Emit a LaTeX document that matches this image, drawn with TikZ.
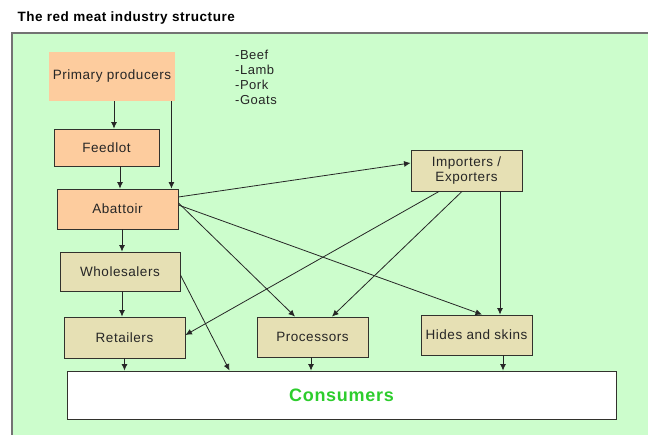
\documentclass[tikz,border=0pt]{standalone}
\usepackage{fontspec}
\setmainfont{Liberation Sans}[LetterSpace=4]
\usetikzlibrary{arrows.meta}
\definecolor{panelgreen}{RGB}{204,253,204}
\definecolor{peach}{RGB}{253,204,158}
\definecolor{khaki}{RGB}{230,224,180}
\definecolor{boxline}{RGB}{50,50,45}
\definecolor{consgreen}{RGB}{45,205,45}
\begin{document}
\begin{tikzpicture}[x=1pt,y=-1pt,
  every node/.style={font=\fontsize{13.5}{15}\selectfont, text=black!85},
  stage/.style={draw=boxline, line width=0.9pt, align=center, inner sep=0pt},
  farm/.style={stage, fill=peach},
  trade/.style={stage, fill=khaki},
  arr/.style={-{Latex[length=6.5pt,width=6pt]}, line width=0.8pt, draw=black!85}]
\useasboundingbox (0,0) rectangle (648,435);
\fill[panelgreen] (12,33) rectangle (648,435);
\draw[black!55, line width=1.2pt] (12,435) -- (12,33) -- (648,33);
\node[anchor=west, font=\fontsize{13.5}{16}\selectfont\bfseries, text=black] (title) at (14,18) {The red meat industry structure};
\node[farm, draw=none, minimum width=126pt, minimum height=49pt] (prim) at (112,76.5) {Primary producers};
\node[anchor=north west, align=left, inner sep=0pt, font=\fontsize{13}{15}\selectfont] (kinds) at (235,50) {-Beef\\-Lamb\\-Pork\\-Goats};
\node[farm, minimum width=105pt, minimum height=37pt] (feed) at (106.5,147.5) {Feedlot};
\node[farm, minimum width=121pt, minimum height=40pt] (abat) at (117.5,209) {Abattoir};
\node[trade, minimum width=111pt, minimum height=41pt] (impex) at (466.5,170.5) {Importers /\\Exporters};
\node[trade, minimum width=120pt, minimum height=39pt] (whole) at (120,271.5) {Wholesalers};
\node[trade, minimum width=121pt, minimum height=41pt] (retail) at (124.5,337.5) {Retailers};
\node[trade, minimum width=111pt, minimum height=40pt] (proc) at (312.5,337) {Processors};
\node[trade, minimum width=111pt, minimum height=40pt] (hides) at (476.5,335) {Hides and skins};
\node[stage, fill=white, minimum width=549pt, minimum height=48pt, font=\fontsize{18}{20}\selectfont\bfseries, text=consgreen] (cons) at (341.5,395) {Consumers};
% down the chain
\draw[arr] ([xshift=2pt]prim.south) -- ([xshift=2pt]prim.south |- feed.north);
\draw[arr] ([xshift=-4pt]prim.south east) -- ([xshift=-4pt]prim.south east |- abat.north);
\draw[arr] ([xshift=13.5pt]feed.south) -- ([xshift=13.5pt]feed.south |- abat.north);
\draw[arr] ([xshift=4.5pt]abat.south) -- ([xshift=4.5pt]abat.south |- whole.north);
\draw[arr] ([xshift=2pt]whole.south) -- ([xshift=2pt]whole.south |- retail.north);
% from the abattoir
\draw[arr] ([yshift=12pt]abat.east) -- ([yshift=7.5pt]impex.west);
\draw[arr] ([yshift=6pt]abat.east) -- ([xshift=-17.5pt]proc.north);
\draw[arr] ([yshift=4pt]abat.east) -- ([xshift=5.5pt]hides.north);
% from importers / exporters
\draw[arr] ([xshift=-27.5pt]impex.south) -- ([yshift=2.5pt]retail.east);
\draw[arr] ([xshift=-4.5pt]impex.south) -- ([xshift=19.5pt]proc.north);
\draw[arr] ([xshift=33.5pt]impex.south) -- ([xshift=23.5pt]hides.north);
% into consumers
\draw[arr] ([yshift=-3.5pt]whole.east) -- ([xshift=163pt]cons.north west);
\draw[arr] (retail.south) -- (retail.south |- cons.north);
\draw[arr] ([xshift=-1.5pt]proc.south) -- ([xshift=-1.5pt]proc.south |- cons.north);
\draw[arr] ([xshift=26.5pt]hides.south) -- ([xshift=26.5pt]hides.south |- cons.north);
\end{tikzpicture}
\end{document}
